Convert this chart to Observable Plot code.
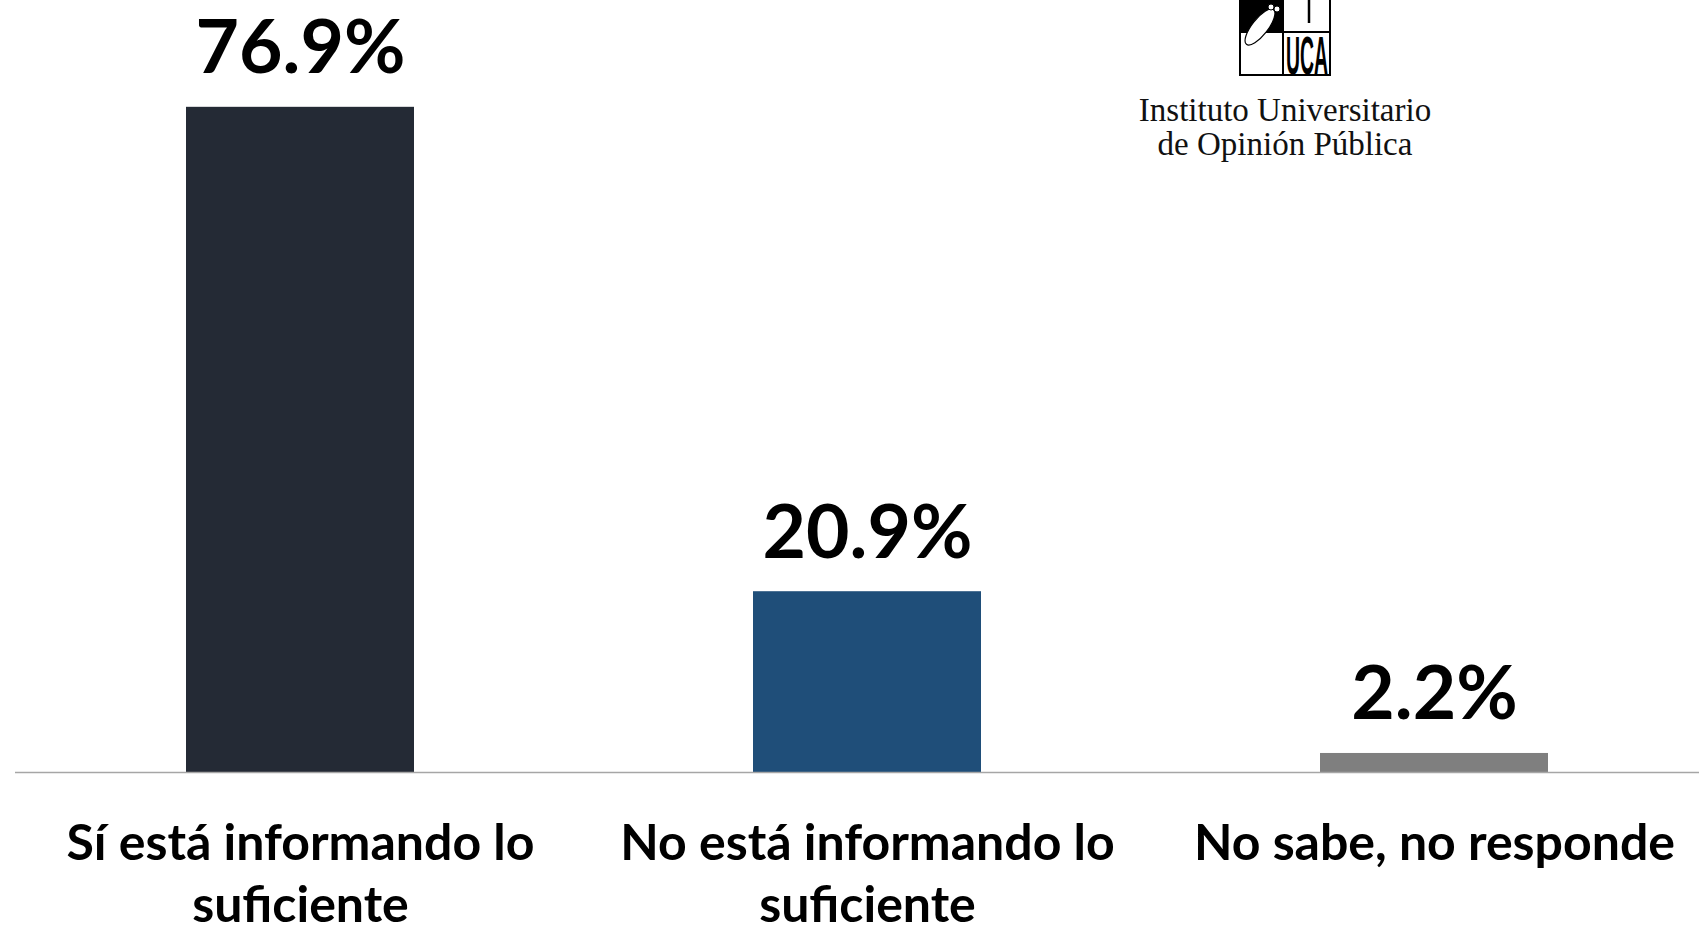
<!DOCTYPE html>
<html>
<head>
<meta charset="utf-8">
<script src="https://cdn.jsdelivr.net/npm/d3@7"></script>
<script src="https://cdn.jsdelivr.net/npm/@observablehq/plot@0.6"></script>
<style>
  html, body { margin: 0; padding: 0; background: #fff; }
  #wrap { position: relative; width: 1699px; height: 926px; overflow: hidden; }
  #logo { position: absolute; left: 0; top: 0; }
</style>
</head>
<body>
<div id="wrap"></div>
<script>
const categories = ["Sí está informando lo\nsuficiente", "No está informando lo\nsuficiente", "No sabe, no responde"];
const values = [76.9, 20.9, 2.2];
const colors = ["#242a35", "#1f4e79", "#7f7f7f"];
const logoLines = ["Instituto Universitario", "de Opinión Pública"];

const data = categories.map((c, i) => ({category: c, value: values[i]}));

const chart = Plot.plot({
  width: 1699,
  height: 926,
  marginLeft: 15,
  marginRight: 0,
  marginTop: 0,
  marginBottom: 0,
  style: {background: "#fff", overflow: "visible"},
  x: {domain: categories, range: [16, 1717], paddingInner: 0.598, paddingOuter: 0.299, axis: null},
  y: {domain: [0, 80], range: [772, 80], axis: null},
  color: {domain: categories, range: colors},
  marks: [
    Plot.barY(data, {x: "category", y: "value", fill: "category"}),
    Plot.ruleY([0], {stroke: "#a6a6a6", strokeWidth: 1.5}),
    Plot.text(data, {
      x: "category", y: "value",
      text: d => d.value.toFixed(1) + "%",
      lineAnchor: "bottom", dy: -34,
      fontSize: 75, fontWeight: "bold", fontFamily: "Lato", fill: "#000"
    }),
    Plot.text(data, {
      x: "category", y: () => 0,
      text: "category",
      lineAnchor: "top", dy: 43, lineHeight: 1.24,
      fontSize: 50, fontWeight: "bold", fontFamily: "Lato", fill: "#000"
    })
  ]
});
document.getElementById("wrap").appendChild(chart);

// Logo overlay (decoration)
const ns = "http://www.w3.org/2000/svg";
const logo = document.createElementNS(ns, "svg");
logo.setAttribute("id", "logo");
logo.setAttribute("width", 1699);
logo.setAttribute("height", 200);
logo.innerHTML = `
  <rect x="1240" y="-2" width="43" height="33" fill="#000"/>
  <g fill="none" stroke="#000" stroke-width="2">
    <rect x="1240" y="-10" width="90" height="85"/>
    <line x1="1283" y1="-10" x2="1283" y2="75"/>
    <line x1="1240" y1="32" x2="1330" y2="32"/>
  </g>
  <line x1="1309" y1="0" x2="1309" y2="23" stroke="#000" stroke-width="2.5"/>
  <ellipse cx="1260" cy="27" rx="8" ry="22" transform="rotate(38 1260 27)" fill="#fff" stroke="#000" stroke-width="1.2"/>
  <circle cx="1271" cy="7" r="3" fill="#fff" stroke="#000" stroke-width="1"/>
  <circle cx="1277" cy="9" r="3" fill="#fff" stroke="#000" stroke-width="1"/>
  <text x="1307" y="74" text-anchor="middle" font-family="Liberation Sans Narrow, Liberation Sans, sans-serif" font-weight="bold" font-size="54" textLength="42" lengthAdjust="spacingAndGlyphs">UCA</text>
  <text x="1285" y="121" text-anchor="middle" font-family="Liberation Serif" font-size="33" fill="#111">${logoLines[0]}</text>
  <text x="1285" y="155" text-anchor="middle" font-family="Liberation Serif" font-size="33" fill="#111">${logoLines[1]}</text>
`;
document.getElementById("wrap").appendChild(logo);
</script>
</body>
</html>
